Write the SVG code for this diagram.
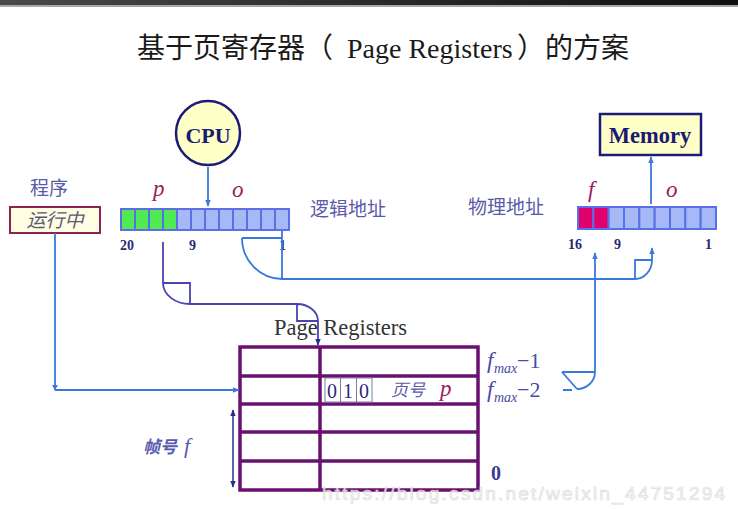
<svg xmlns="http://www.w3.org/2000/svg" width="738" height="510" viewBox="0 0 738 510">
<defs>
  <linearGradient id="bar" x1="0" y1="0" x2="1" y2="0">
    <stop offset="0" stop-color="#4a4a4a"/>
    <stop offset="0.5" stop-color="#2a2a2a"/>
    <stop offset="1" stop-color="#101010"/>
  </linearGradient>
  <marker id="ab" viewBox="0 0 10 10" refX="9" refY="5" markerWidth="7" markerHeight="7" markerUnits="userSpaceOnUse" orient="auto">
    <path d="M0,1 L10,5 L0,9 Z" fill="#3a78dc"/>
  </marker>
  <marker id="an" viewBox="0 0 10 10" refX="9" refY="5" markerWidth="7" markerHeight="7" markerUnits="userSpaceOnUse" orient="auto">
    <path d="M0,1 L10,5 L0,9 Z" fill="#2b2b8c"/>
  </marker>
  <marker id="anStart" viewBox="0 0 10 10" refX="1" refY="5" markerWidth="7" markerHeight="7" markerUnits="userSpaceOnUse" orient="auto">
    <path d="M10,1 L0,5 L10,9 Z" fill="#2b2b8c"/>
  </marker>
</defs>
<style>
  .serif { font-family: "Liberation Serif", "Noto Sans CJK SC", serif; }
  .cjk { font-family: "Noto Sans CJK SC", sans-serif; }
  .lbl { font-family: "Noto Sans CJK SC", sans-serif; font-size: 19px; fill: #5a5aa8; }
  .num { font-family: "Liberation Serif", serif; font-size: 14px; font-weight: bold; fill: #2a2a70; }
  .var { font-family: "Liberation Serif", serif; font-size: 23px; font-style: italic; fill: #9a2060; }
  .cellB { fill: #a6b9f6; stroke: #5b6fe6; stroke-width: 2; }
  .cellG { fill: #52ea52; stroke: #5b6fe6; stroke-width: 2; }
  .cellM { fill: #e0006e; stroke: #5b6fe6; stroke-width: 2; }
  .conB { fill: none; stroke: #3a78dc; stroke-width: 1.8; }
  .conP { fill: none; stroke: #4a44b0; stroke-width: 1.8; }
  .tbl { fill: none; stroke: #6a1070; stroke-width: 3.5; }
  .box { fill: #ffffc8; stroke: #1c1c78; stroke-width: 2.5; }
</style>

<rect x="0" y="0" width="738" height="5" fill="url(#bar)"/>
<rect x="0" y="5" width="738" height="2" fill="#a8a8a8"/>

<g id="title">
  <text x="137" y="58" class="cjk" font-size="28" fill="#1a1a1a">基于页寄存器（</text>
  <text x="347" y="58" class="serif" font-size="28" fill="#1a1a1a">Page Registers</text>
  <text x="517" y="58" class="cjk" font-size="28" fill="#1a1a1a">）的方案</text>
</g>

<g id="cpu">
  <circle cx="208" cy="133" r="32" class="box"/>
  <text x="208" y="143" text-anchor="middle" class="serif" font-size="22" font-weight="bold" fill="#1a1a70">CPU</text>
</g>

<g id="memory">
  <rect x="600" y="114" width="101" height="41" class="box"/>
  <text x="650" y="143" text-anchor="middle" class="serif" font-size="22.5" font-weight="bold" fill="#1a1a70">Memory</text>
</g>

<g id="program">
  <text x="30" y="195" class="lbl" font-size="20">程序</text>
  <rect x="10" y="207" width="90" height="26" fill="#fffde2" stroke="#8b2252" stroke-width="2"/>
  <text x="55" y="227" text-anchor="middle" class="cjk" font-size="19" font-style="italic" fill="#5a5a78">运行中</text>
</g>

<g id="logical-address">
  <rect x="121" y="209" width="14" height="21" class="cellG"/>
  <rect x="135" y="209" width="14" height="21" class="cellG"/>
  <rect x="149" y="209" width="14" height="21" class="cellG"/>
  <rect x="163" y="209" width="14" height="21" class="cellG"/>
  <rect x="177" y="209" width="14" height="21" class="cellB"/>
  <rect x="191" y="209" width="14" height="21" class="cellB"/>
  <rect x="205" y="209" width="14" height="21" class="cellB"/>
  <rect x="219" y="209" width="14" height="21" class="cellB"/>
  <rect x="233" y="209" width="14" height="21" class="cellB"/>
  <rect x="247" y="209" width="14" height="21" class="cellB"/>
  <rect x="261" y="209" width="14" height="21" class="cellB"/>
  <rect x="275" y="209" width="14" height="21" class="cellB"/>
  <text x="153" y="196" class="var">p</text>
  <text x="232" y="197" class="var">o</text>
  <text x="120" y="250" class="num">20</text>
  <text x="189" y="250" class="num">9</text>
  <text x="279" y="250" class="num">1</text>
  <text x="310" y="216" class="lbl">逻辑地址</text>
</g>

<g id="physical-address">
  <rect x="578" y="207" width="15.33" height="22" class="cellM"/>
  <rect x="593.33" y="207" width="15.33" height="22" class="cellM"/>
  <rect x="608.67" y="207" width="15.33" height="22" class="cellB"/>
  <rect x="624" y="207" width="15.33" height="22" class="cellB"/>
  <rect x="639.33" y="207" width="15.33" height="22" class="cellB"/>
  <rect x="654.67" y="207" width="15.33" height="22" class="cellB"/>
  <rect x="670" y="207" width="15.33" height="22" class="cellB"/>
  <rect x="685.33" y="207" width="15.33" height="22" class="cellB"/>
  <rect x="700.67" y="207" width="15.33" height="22" class="cellB"/>
  <text x="588" y="197" class="var">f</text>
  <text x="666" y="197" class="var">o</text>
  <text x="568" y="249" class="num">16</text>
  <text x="614" y="249" class="num">9</text>
  <text x="705" y="249" class="num">1</text>
  <text x="468" y="214" class="lbl">物理地址</text>
</g>

<g id="page-registers">
  <text x="274" y="335" class="serif" font-size="22.5" fill="#333333">Page Registers</text>
  <rect x="240" y="347" width="238" height="143" class="tbl"/>
  <line x1="240" y1="376" x2="478" y2="376" class="tbl"/>
  <line x1="240" y1="404" x2="478" y2="404" class="tbl"/>
  <line x1="240" y1="432" x2="478" y2="432" class="tbl"/>
  <line x1="240" y1="461" x2="478" y2="461" class="tbl"/>
  <line x1="320" y1="347" x2="320" y2="490" class="tbl"/>
  <g fill="none" stroke="#7a7aa8" stroke-width="1">
    <rect x="325" y="378" width="47" height="24"/>
    <line x1="340.5" y1="378" x2="340.5" y2="402"/>
    <line x1="356.5" y1="378" x2="356.5" y2="402"/>
  </g>
  <text x="327" y="398" class="serif" font-size="20" fill="#2a2a80">0</text>
  <text x="343" y="398" class="serif" font-size="20" fill="#2a2a80">1</text>
  <text x="359" y="398" class="serif" font-size="20" fill="#2a2a80">0</text>
  <text x="391" y="396" class="cjk" font-size="17" font-style="italic" fill="#5a5aa8">页号</text>
  <text x="440" y="396" class="var" font-size="22">p</text>
  <text x="487" y="368" class="serif" font-size="23" font-style="italic" fill="#4a4aa8">f</text>
  <text x="494" y="373" class="serif" font-size="14" font-style="italic" fill="#4a4aa8">max</text>
  <text x="517" y="368" class="serif" font-size="22" fill="#4a4aa8">−1</text>
  <text x="487" y="397" class="serif" font-size="23" font-style="italic" fill="#4a4aa8">f</text>
  <text x="494" y="402" class="serif" font-size="14" font-style="italic" fill="#4a4aa8">max</text>
  <text x="517" y="397" class="serif" font-size="22" fill="#4a4aa8">−2</text>
  <text x="491" y="480" class="serif" font-size="20" font-weight="bold" fill="#3a3a90">0</text>
  <text x="143" y="453" class="cjk" font-size="17" font-style="italic" font-weight="bold" fill="#5a5ab0">帧号</text>
  <text x="184" y="453" class="serif" font-size="22" font-style="italic" fill="#5a5ab0">f</text>
  <line x1="233" y1="410" x2="233" y2="487" stroke="#2b2b8c" stroke-width="1.5" marker-start="url(#anStart)" marker-end="url(#an)"/>
</g>

<g id="connectors">
  <line x1="208" y1="167" x2="208" y2="206" class="conB" marker-end="url(#ab)"/>
  <line x1="651" y1="204" x2="651" y2="157" class="conB" marker-end="url(#ab)"/>
  <path d="M55,233 V390" class="conB"/>
  <path d="M52,385 L58,385 L55,390 Z" fill="#3a78dc"/>
  <line x1="55" y1="390" x2="239" y2="390" class="conB" marker-end="url(#ab)"/>
  <path d="M163,242 V283 H190 V304 M163,283 A27,21 0 0 0 190,304 M190,304 H297 M297,304 V321 H318 M297,304 A21,17 0 0 1 318,321 M318,321 V345" class="conP" marker-end="url(#an)"/>
  <path d="M282,231 V279 M242,238 H282 M242,238 A40,41 0 0 0 282,279 M282,279 H635 V260 H652 M635,279 A17,19 0 0 0 652,260 M652,260 V248" class="conB" marker-end="url(#ab)"/>
  <path d="M562,372 H595 M562,372 L577,389 M577,389 A18,17 0 0 0 595,372 M563,390 H572 M595,372 V253" class="conB" marker-end="url(#ab)"/>
</g>

<text x="322" y="500" font-family="Liberation Sans, sans-serif" font-size="19" textLength="403" fill="#f6f6f6" stroke="#d8d8d8" stroke-width="0.7" opacity="0.85">https://blog.csdn.net/weixin_44751294</text>
</svg>
